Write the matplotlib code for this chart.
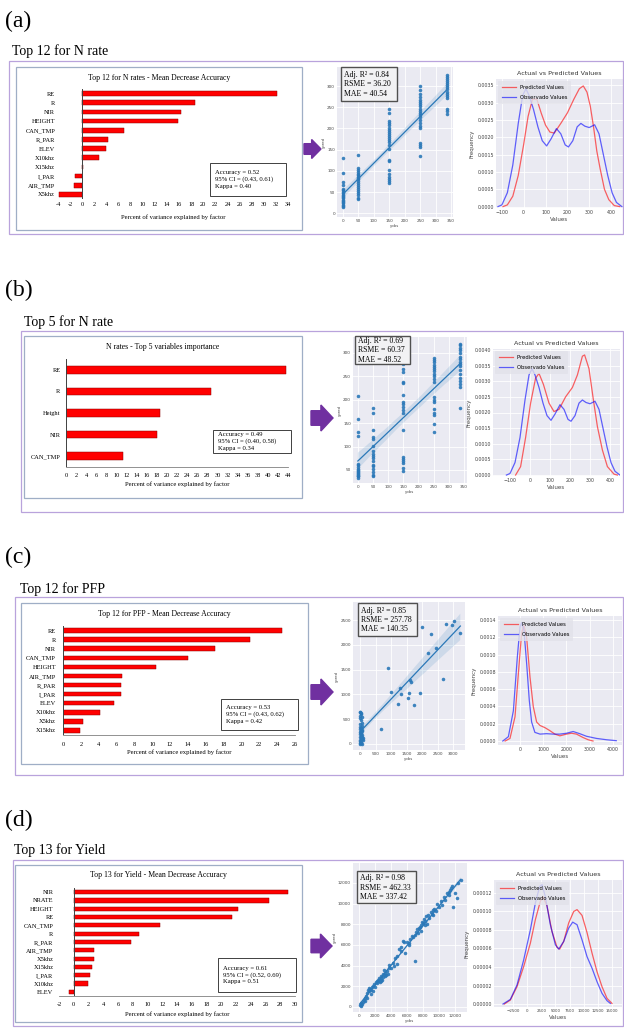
import numpy as np
import matplotlib
matplotlib.use('Agg')
import matplotlib.pyplot as plt
import seaborn as sns
from matplotlib.patches import Rectangle, Polygon
from matplotlib.transforms import Affine2D

# ---------------- data ----------------
# bar charts: variable importance (percent of variance explained)
a_names = ['RE', 'R', 'NIR', 'HEIGHT', 'CAN_TMP', 'R_PAR', 'ELEV', 'X10khz',
           'X15khz', 'I_PAR', 'AIR_TMP', 'X5khz']
a_vals = [32.2, 18.7, 16.4, 15.9, 6.9, 4.2, 4.0, 2.8, 0.2, -1.2, -1.3, -3.9]

b_names = ['RE', 'R', 'Height', 'NIR', 'CAN_TMP']
b_vals = [43.7, 28.8, 18.6, 18.0, 11.2]

c_names = ['RE', 'R', 'NIR', 'CAN_TMP', 'HEIGHT', 'AIR_TMP', 'R_PAR', 'I_PAR',
           'ELEV', 'X10khz', 'X5khz', 'X15khz']
c_vals = [24.5, 21.0, 17.0, 14.0, 10.4, 6.6, 6.5, 6.5, 5.7, 4.1, 2.2, 1.9]

d_names = ['NIR', 'NRATE', 'HEIGHT', 'RE', 'CAN_TMP', 'R', 'R_PAR', 'AIR_TMP',
           'X5khz', 'X15khz', 'I_PAR', 'X10khz', 'ELEV']
d_vals = [29.1, 26.5, 22.3, 21.5, 11.7, 8.8, 7.8, 2.8, 2.7, 2.5, 2.2, 1.9, -0.7]

# scatter: observed N rates and predicted values
rates = [0, 50, 150, 250, 336]
a_pred_groups = [
    [131, 95, 73, 66, 58, 54, 50, 47, 44, 41, 38, 35, 32, 29, 26, 23, 20, 17, 14],
    [138, 106, 101, 97, 93, 89, 86, 83, 80, 76, 71, 66, 62, 57, 52, 47, 42, 37, 34],
    [246, 236, 217, 212, 207, 202, 197, 192, 187, 182, 177, 172, 167, 160, 152,
     125, 122, 101, 92, 86, 81, 75, 71],
    [300, 291, 282, 274, 268, 262, 257, 252, 247, 242, 237, 232, 226, 221, 212,
     206, 200, 166, 161, 156, 134],
    [327, 322, 317, 312, 307, 302, 297, 292, 287, 282, 277, 272, 247, 240, 235],
]
b_pred_groups = [
    [208, 158, 131, 122, 63, 60, 56, 52, 50, 48, 45, 44, 42, 39, 38, 36, 33],
    [183, 172, 135, 121, 116, 101, 90, 85, 80, 75, 70, 61, 58, 51, 45, 40, 37],
    [285, 276, 266, 260, 238, 236, 210, 196, 190, 185, 178, 172, 135, 78, 74,
     69, 64, 55, 47],
    [290, 285, 280, 275, 270, 265, 262, 256, 250, 245, 238, 205, 200, 195, 181,
     172, 168, 149, 132],
    [320, 316, 311, 306, 300, 291, 286, 281, 276, 271, 263, 255, 246, 239, 233,
     227, 183],
]

c_obs = [0, 20, 40, 10, 0, 30, 50, 60, 10, 30, 0, 50, 20, 70, 0, 40, 10, 60, 30,
         0, 80, 20, 50, 0, 10, 40, 0, 20, 60, 0, 30, 90, 100, 5, 15, 70,
         675, 911, 986, 1233, 1286, 1318, 1533, 1586, 1608, 1629, 1747, 1951,
         2015, 2197, 2304, 2444, 2680, 2765, 2980, 3022, 3237]
c_pred = [650, 630, 600, 560, 520, 480, 420, 370, 350, 330, 300, 290, 270, 260,
          240, 220, 200, 190, 170, 150, 140, 120, 100, 80, 60, 50, 30, 20, 10, 5,
          230, 80, 120, 400, 640, 550,
          302, 1528, 1039, 804, 1133, 1012, 925, 1019, 1294, 1240, 784, 1032,
          2352, 1830, 2212, 1930, 1307, 2420, 2400, 2480, 2245]

d_obs = [200, 300, 400, 500, 600, 800, 900, 1000, 1100, 1200, 1300, 1400, 1500,
         1600, 1700, 1800, 1900, 2000, 2200, 2300, 2400, 2500, 2600, 2700, 2800,
         2900, 3000, 3100, 3200, 3300, 3500, 3600, 3800, 4000, 4200, 4500, 4800,
         5000, 5200, 5500, 5600, 5800, 6000, 6200, 6400, 6600, 7050, 7000, 7100,
         7300, 7400, 7500, 7700, 7800, 8000, 8200, 8400, 8600, 8800, 9000, 9200,
         9400, 9600, 9800, 10000, 10200, 10400, 10600, 10800, 11000, 11200,
         11400, 11600, 11800, 12000, 12200, 12400, 12700, 11500, 11300, 8500,
         8300, 7600, 6800, 4400, 3700, 3400, 2100, 1500, 1000, 700, 250, 100,
         9100, 9300, 7900, 8100, 2500, 2800, 3000, 4700, 5300, 6300]
d_pred = [150, 400, 300, 500, 700, 900, 1100, 1400, 1600, 1500, 1800, 1700, 1600,
          1900, 1500, 2000, 2200, 1900, 2500, 2300, 2600, 2800, 2400, 2700, 3000,
          2600, 2900, 3600, 3300, 3000, 3500, 3200, 4100, 3800, 4300, 4700, 4900,
          5600, 5800, 6400, 6300, 5200, 6300, 6000, 6600, 6900, 4480, 7000, 7300,
          7500, 7200, 7600, 7900, 7400, 8100, 8300, 8800, 8900, 8600, 9200, 8900,
          9500, 9300, 10000, 9700, 10300, 9900, 10600, 10400, 11000, 10800,
          11300, 11700, 9700, 11000, 10500, 12000, 12300, 11500, 11100, 8000,
          7900, 7700, 6800, 4000, 3800, 3100, 2400, 1300, 900, 600, 100, 200,
          9000, 9400, 8200, 8500, 2500, 2500, 3200, 4200, 5400, 6200]

# density curves
n_kde_obs_x = [-118, -100, -75, -50, -25, -5, 10, 25, 45, 65, 85, 105, 125, 150,
               170, 190, 205, 225, 245, 262, 280, 300, 325, 345, 365, 385, 405,
               425, 450]
n_kde_obs_y = [0, 0.00005, 0.0004, 0.0012, 0.0024, 0.0032, 0.0034, 0.0032, 0.0028,
               0.0023, 0.0019, 0.00175, 0.00195, 0.00225, 0.0021, 0.00178,
               0.00172, 0.0019, 0.0023, 0.0024, 0.00232, 0.00228, 0.00236, 0.0021,
               0.0015, 0.0009, 0.0004, 0.00012, 0]
a_kde_pred_x = [-95, -75, -50, -25, 0, 20, 40, 60, 80, 100, 120, 140, 170, 200,
                230, 255, 273, 290, 305, 320, 335, 350, 370, 390, 415, 440]
a_kde_pred_y = [0, 0.00005, 0.0003, 0.0009, 0.0018, 0.0026, 0.0031, 0.0031,
                0.0027, 0.00235, 0.00215, 0.00212, 0.0024, 0.0027, 0.0031, 0.0034,
                0.00348, 0.0033, 0.0029, 0.0023, 0.0016, 0.0011, 0.0005, 0.0002,
                0.00003, 0]
b_kde_pred_x = [-72, -47, -22, 3, 28, 45, 67, 95, 120, 145, 178, 212, 237, 262,
                273, 295, 317, 337, 362, 387, 420, 437]
b_kde_pred_y = [0, 0.00027, 0.0012, 0.0023, 0.0031, 0.00325, 0.0029, 0.0023,
                0.00203, 0.0021, 0.0025, 0.0028, 0.0032, 0.0038, 0.00384, 0.0034,
                0.0024, 0.00155, 0.0008, 0.00027, 0.00003, 0]
c_kde_pred_x = [-640, -430, -215, -70, 70, 170, 285, 430, 570, 715, 860, 1070,
                1285, 1500, 1715, 2000, 2215, 2430, 2715, 2930, 3140]
c_kde_pred_y = [0, 0.00003, 0.00028, 0.00078, 0.00125, 0.00134, 0.0012, 0.00074,
                0.0004, 0.00022, 0.00018, 0.000155, 0.00012, 0.00008, 0.00006,
                0.00008, 0.00009, 0.00008, 0.00004, 0.000015, 0]
c_kde_obs_x = [-740, -500, -285, -115, 0, 70, 170, 285, 400, 500, 640, 860, 1140,
               1430, 1715, 2000, 2285, 2570, 2860, 3290, 3715, 4140]
c_kde_obs_y = [0, 0.00005, 0.00035, 0.00097, 0.00132, 0.00137, 0.00128, 0.0009,
               0.00047, 0.00022, 0.0001, 0.00008, 0.000085, 0.00008, 0.00008,
               0.00009, 0.00011, 0.000085, 0.000055, 0.00003, 0.000015, 0.000004]
d_kde_pred_x = [-4030, -2970, -1790, -610, 570, 1450, 2330, 2800, 3510, 4390,
                5280, 5750, 6460, 7340, 8230, 8820, 9700, 10580, 11470, 12350,
                13230, 14120, 15000]
d_kde_pred_y = [0, 0.0000043, 0.0000188, 0.0000405, 0.0000658, 0.0000911,
                0.000111, 0.000116, 0.000106, 0.0000784, 0.0000614, 0.0000593,
                0.0000676, 0.0000875, 0.0001, 0.000102, 0.0000958, 0.0000773,
                0.000055, 0.000035, 0.0000188, 0.0000061, 0.0000007]
d_kde_obs_x = [-4270, -2970, -1790, -610, 570, 1450, 2210, 2630, 3220, 4100, 4990,
               5580, 6460, 7340, 8050, 8820, 9700, 10580, 11470, 12350, 13230,
               14120, 14710]
d_kde_obs_y = [0, 0.000005, 0.0000206, 0.0000477, 0.0000802, 0.000109, 0.000127,
               0.000129, 0.000116, 0.0000857, 0.000064, 0.0000593, 0.0000676,
               0.000082, 0.0000885, 0.0000857, 0.0000694, 0.0000513, 0.0000387,
               0.0000242, 0.0000116, 0.0000036, 0.0000007]

# ---------------- figure ----------------
W, H = 624, 1028
fig = plt.figure(figsize=(W / 100, H / 100), dpi=100)
PX = Affine2D().scale(1 / W, -1 / H).translate(0, 1) + fig.transFigure
SERIF = 'Liberation Serif'
LAV = '#B9A3DC'
FRAME = '#9FAEC6'
BLUE = '#2a78b8'


def box(x0, y0, x1, y1):
    return [x0 / W, 1 - y1 / H, (x1 - x0) / W, (y1 - y0) / H]


def rect(x0, y0, x1, y1, **kw):
    fig.add_artist(Rectangle((x0, y0), x1 - x0, y1 - y0, transform=PX, **kw))


def arrow(x0, yc, x1, h):
    xm = x0 + (x1 - x0) * 0.45
    pts = [(x0, yc - h * 0.28), (xm, yc - h * 0.28), (xm, yc - h / 2), (x1, yc),
           (xm, yc + h / 2), (xm, yc + h * 0.28), (x0, yc + h * 0.28)]
    fig.add_artist(Polygon(pts, closed=True, transform=PX, color='#7030A0'))


def bar_panel(frame, axb, title_y, title, names, vals, xlim, xticks, bh,
              stats, sbox, xlabel_y, bottom_line=True, pad=3):
    rect(*frame, fill=False, ec=FRAME, lw=0.9)
    fig.text((frame[0] + frame[2]) / 2, title_y, title, transform=PX,
             ha='center', va='center', fontsize=5.6, family=SERIF)
    ax = fig.add_axes(box(*axb))
    y = np.arange(len(names))
    ax.barh(y, vals, height=bh, color='#FF0000', edgecolor='#8B0000', lw=0.35)
    ax.set_ylim(len(names) - 0.5, -0.5)
    ax.set_xlim(*xlim)
    ax.set_yticks(y)
    ax.set_yticklabels(names, fontsize=4.6, family=SERIF)
    ax.set_xticks(xticks)
    ax.set_xticklabels([str(t) for t in xticks], fontsize=4.6, family=SERIF)
    ax.tick_params(length=0, pad=pad)
    for s in ax.spines.values():
        s.set_visible(False)
    ax.axvline(0, color='#404040', lw=0.7)
    if bottom_line:
        ax.spines['bottom'].set_visible(True)
        ax.spines['bottom'].set_color('#808080')
        ax.spines['bottom'].set_linewidth(0.6)
    ax.patch.set_alpha(0)
    fig.text((axb[0] + axb[2]) / 2, xlabel_y, 'Percent of variance explained by factor',
             transform=PX, ha='center', va='center', fontsize=4.8, family=SERIF)
    rect(*sbox, fill=True, fc='white', ec='#404040', lw=0.7)
    fig.text(sbox[0] + 5, (sbox[1] + sbox[3]) / 2, stats, transform=PX,
             ha='left', va='center', fontsize=4.8, family=SERIF, linespacing=1.35)


def dark_axes(axb):
    ax = fig.add_axes(box(*axb))
    ax.set_facecolor('#EAEAF2')
    ax.grid(True, color='white', lw=0.6)
    ax.set_axisbelow(True)
    for s in ax.spines.values():
        s.set_visible(False)
    ax.tick_params(length=0, pad=1.5, labelsize=3, colors='#444444')
    return ax


def scatter_panel(axb, obs, pred, xlim, ylim, xticks, yticks, stats, sbox):
    ax = dark_axes(axb)
    sns.regplot(x=np.asarray(obs, float), y=np.asarray(pred, float), ax=ax,
                color=BLUE, seed=0,
                scatter_kws=dict(s=6.5, linewidths=0, alpha=0.9),
                line_kws=dict(lw=0.9))
    ax.set_xlim(*xlim)
    ax.set_ylim(*ylim)
    ax.set_xticks(xticks)
    ax.set_yticks(yticks)
    ax.set_xlabel('yobs', fontsize=2.8, labelpad=1, color='#444444')
    ax.set_ylabel('ypred', fontsize=2.8, labelpad=1, color='#444444')
    rect(*sbox, fill=True, fc='#F2F2F4', ec='#505050', lw=1.0)
    fig.text(sbox[0] + 3, (sbox[1] + sbox[3]) / 2 + 0.5, stats, transform=PX,
             ha='left', va='center', fontsize=5.6, family=SERIF, linespacing=1.2)
    return ax


def kde_panel(axb, px_, py_, ox_, oy_, xlim, ylim, xticks, yticks, fmt, xsize=3.4):
    ax = dark_axes(axb)
    ax.tick_params(labelsize=3.4)
    ax.tick_params(axis='x', labelsize=xsize)
    ax.plot(px_, py_, color='red', alpha=0.6, lw=0.9, label='Predicted Values')
    ax.plot(ox_, oy_, color='blue', alpha=0.6, lw=0.9, label='Observado Values')
    ax.set_xlim(*xlim)
    ax.set_ylim(*ylim)
    ax.set_xticks(xticks)
    ax.set_yticks(yticks)
    ax.set_yticklabels([fmt.format(v) for v in yticks])
    ax.set_title('Actual vs Predicted Values', fontsize=4.6, pad=3, color='#333333')
    ax.set_xlabel('Values', fontsize=4, labelpad=1.5, color='#444444')
    ax.set_ylabel('Frequency', fontsize=4, labelpad=2, color='#444444')
    leg = ax.legend(loc='upper left', fontsize=3.8, handlelength=2.6,
                    borderpad=0.8, labelspacing=0.9, fancybox=True,
                    borderaxespad=0.3)
    leg.get_frame().set_facecolor('#E2E2EA')
    leg.get_frame().set_edgecolor('none')
    return ax


def header(label, y_lab, sub, x_sub, y_sub, frame):
    fig.text(5, y_lab, label, transform=PX, ha='left', va='center',
             fontsize=17, family=SERIF)
    fig.text(x_sub, y_sub, sub, transform=PX, ha='left', va='center',
             fontsize=10, family=SERIF)
    rect(*frame, fill=False, ec=LAV, lw=0.9)


n_obs_a = np.repeat(rates, [len(g) for g in a_pred_groups])
n_pred_a = np.concatenate(a_pred_groups)
n_obs_b = np.repeat(rates, [len(g) for g in b_pred_groups])
n_pred_b = np.concatenate(b_pred_groups)

# ---------- (a) ----------
header('(a)', 21, 'Top 12 for N rate', 12, 51, (9, 61, 623, 234))
bar_panel((16, 67, 302, 230), (58, 89, 288, 199), 78,
          'Top 12 for N rates - Mean Decrease Accuracy', a_names, a_vals,
          (-4, 34), list(range(-4, 35, 2)), 0.5,
          'Accuracy = 0.52\n95% CI = (0.43, 0.61)\nKappa = 0.40',
          (210, 163, 286, 196), 217, bottom_line=False, pad=2)
arrow(304, 149, 321, 19)
scatter_panel((337, 67, 453, 217), n_obs_a, n_pred_a, (-19, 356), (-9, 345),
              range(0, 351, 50), range(0, 301, 50),
              'Adj. R² = 0.84\nRSME = 36.20\nMAE = 40.54', (341, 67, 397, 101))
kde_panel((496, 79, 623, 208), a_kde_pred_x, a_kde_pred_y, n_kde_obs_x, n_kde_obs_y,
          (-127, 455), (-0.00004, 0.00368), range(-100, 401, 100),
          np.arange(0, 0.00351, 0.0005), '{:.4f}')

# ---------- (b) ----------
header('(b)', 290, 'Top 5 for N rate', 24, 322, (21, 331, 623, 512))
bar_panel((24, 336, 302, 498), (66, 359, 288, 467), 347,
          'N rates - Top 5 variables importance', b_names, b_vals,
          (0, 44), list(range(0, 45, 2)), 0.36,
          'Accuracy = 0.49\n95% CI = (0.40, 0.58)\nKappa = 0.34',
          (213, 430, 291, 453), 484, pad=4)
arrow(311, 418, 333, 26)
scatter_panel((353, 337, 467, 483), n_obs_b, n_pred_b, (-16, 360), (22, 334),
              range(0, 351, 50), range(50, 301, 50),
              'Adj. R² = 0.69\nRSME = 60.37\nMAE = 48.52', (355, 336, 410, 364))
kde_panel((493, 349, 620, 476), b_kde_pred_x, b_kde_pred_y, n_kde_obs_x, n_kde_obs_y,
          (-185, 450), (-0.00003, 0.00403), range(-100, 401, 100),
          np.arange(0, 0.00401, 0.0005), '{:.4f}')

# ---------- (c) ----------
header('(c)', 557, 'Top 12 for PFP', 20, 589, (15, 597, 623, 775))
bar_panel((21, 603, 308, 764), (63, 626, 295, 735), 614,
          'Top 12 for PFP - Mean Decrease Accuracy', c_names, c_vals,
          (0, 26), list(range(0, 27, 2)), 0.5,
          'Accuracy = 0.53\n95% CI = (0.43, 0.62)\nKappa = 0.42',
          (221, 699, 298, 730), 752, pad=5)
arrow(311, 692, 333, 26)
scatter_panel((353, 602, 465, 750), c_obs, c_pred, (-226, 3387), (-121, 2863),
              range(0, 3001, 500), range(0, 2501, 500),
              'Adj. R² = 0.85\nRSME = 257.78\nMAE = 140.35', (358, 603, 417, 636))
kde_panel((498, 616, 622, 745), c_kde_pred_x, c_kde_pred_y, c_kde_obs_x, c_kde_obs_y,
          (-946, 4387), (-0.000046, 0.001446), range(0, 4001, 1000),
          np.arange(0, 0.00141, 0.0002), '{:.4f}')

# ---------- (d) ----------
header('(d)', 820, 'Top 13 for Yield', 14, 850, (13, 860, 623, 1026))
bar_panel((15, 865, 302, 1022), (59, 888, 295, 996), 875,
          'Top 13 for Yield - Mean Decrease Accuracy', d_names, d_vals,
          (-2, 30), list(range(-2, 31, 2)), 0.5,
          'Accuracy = 0.61\n95% CI = (0.52, 0.69)\nKappa = 0.51',
          (218, 958, 296, 992), 1014, pad=4)
arrow(311, 946, 332, 24)
scatter_panel((353, 863, 467, 1012), d_obs, d_pred, (-750, 13500), (-484, 13935),
              range(0, 12001, 2000), range(0, 12001, 2000),
              'Adj. R² = 0.98\nRSME = 462.33\nMAE = 337.42', (357, 871, 416, 903))
kde_panel((494, 880, 622, 1007), d_kde_pred_x, d_kde_pred_y, d_kde_obs_x, d_kde_obs_y,
          (-5859, 16768), (-0.0000032, 0.000134), range(-2500, 15001, 2500),
          np.arange(0, 0.000121, 0.00002), '{:.5f}', xsize=2.9)

fig.savefig('out.png', dpi=100, facecolor='white')
